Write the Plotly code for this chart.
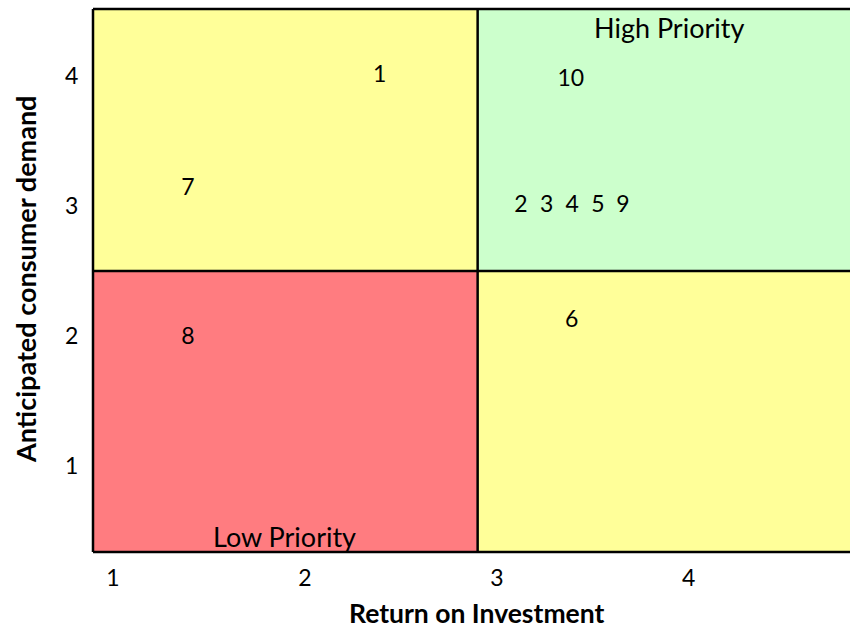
import plotly.graph_objects as go

# Initiative IDs with their return-on-investment and anticipated-demand scores
item_ids = ["1", "10", "7", "2", "3", "4", "5", "9", "8", "6"]
roi = [2.39, 3.385, 1.39, 3.125, 3.259, 3.392, 3.527, 3.657, 1.39, 3.39]
demand = [4.0, 3.97, 3.13, 3.0, 3.0, 3.0, 3.0, 3.0, 1.985, 2.11]

# Axis ticks
x_ticks = [1, 2, 3, 4]
y_ticks = [1, 2, 3, 4]

# Quadrant layout
x_range = [0.896, 4.84]
y_range = [0.338, 4.515]
roi_split = 2.9
demand_split = 2.5

YELLOW = "#FFFF99"
GREEN = "#CCFFCC"
RED = "#FF7C80"
FONT = "Lato"

fig = go.Figure()

fig.add_trace(go.Scatter(
    x=roi, y=demand, mode="text", text=item_ids,
    textfont=dict(family=FONT, size=23, color="black"),
    textposition="middle center", hoverinfo="text", showlegend=False,
))

x0, x1 = x_range
y0, y1 = y_range
quadrants = [
    (x0, roi_split, demand_split, y1, YELLOW),
    (roi_split, x1, demand_split, y1, GREEN),
    (x0, roi_split, y0, demand_split, RED),
    (roi_split, x1, y0, demand_split, YELLOW),
]
for qx0, qx1, qy0, qy1, color in quadrants:
    fig.add_shape(type="rect", xref="x", yref="y", x0=qx0, x1=qx1, y0=qy0, y1=qy1,
                  fillcolor=color, line=dict(width=0), layer="below")

# Dividers and frame
line = dict(color="black", width=2.5)
fig.add_shape(type="line", xref="x", yref="y", x0=roi_split, x1=roi_split, y0=y0, y1=y1, line=line)
fig.add_shape(type="line", xref="x", yref="y", x0=x0, x1=x1, y0=demand_split, y1=demand_split, line=line)
fig.add_shape(type="line", xref="paper", yref="paper", x0=0, x1=1, y0=1, y1=1, line=line)
fig.add_shape(type="line", xref="paper", yref="paper", x0=0, x1=1, y0=0, y1=0, line=line)
fig.add_shape(type="line", xref="paper", yref="paper", x0=0, x1=0, y0=0, y1=1, line=line)

fig.add_annotation(x=3.896, y=4.37, xref="x", yref="y", text="High Priority", showarrow=False,
                   xanchor="center", yanchor="middle",
                   font=dict(family=FONT, size=27, color="black"))
fig.add_annotation(x=1.893, y=0.46, xref="x", yref="y", text="Low Priority", showarrow=False,
                   xanchor="center", yanchor="middle",
                   font=dict(family=FONT, size=27, color="black"))

fig.add_annotation(x=0.507, y=-0.1115, xref="paper", yref="paper", text="<b>Return on Investment</b>",
                   showarrow=False, xanchor="center", yanchor="middle",
                   font=dict(family=FONT, size=26.5, color="black"))
fig.add_annotation(x=-0.0885, y=0.501, xref="paper", yref="paper", text="<b>Anticipated consumer demand</b>",
                   showarrow=False, textangle=-90, xanchor="center", yanchor="middle",
                   font=dict(family=FONT, size=27, color="black"))

fig.update_xaxes(range=x_range, tickvals=x_ticks, showgrid=False, zeroline=False, showline=False,
                 ticks="outside", ticklen=5, tickcolor="rgba(0,0,0,0)",
                 tickfont=dict(family=FONT, size=23, color="black"), fixedrange=True)
fig.update_yaxes(range=y_range, tickvals=y_ticks, showgrid=False, zeroline=False, showline=False,
                 ticks="outside", ticklen=9, tickcolor="rgba(0,0,0,0)",
                 tickfont=dict(family=FONT, size=23, color="black"), fixedrange=True)

fig.update_layout(
    width=850, height=630,
    margin=dict(l=93, r=0, t=9, b=78),
    paper_bgcolor="white", plot_bgcolor="white",
    showlegend=False,
)

fig.write_html("out.html")
